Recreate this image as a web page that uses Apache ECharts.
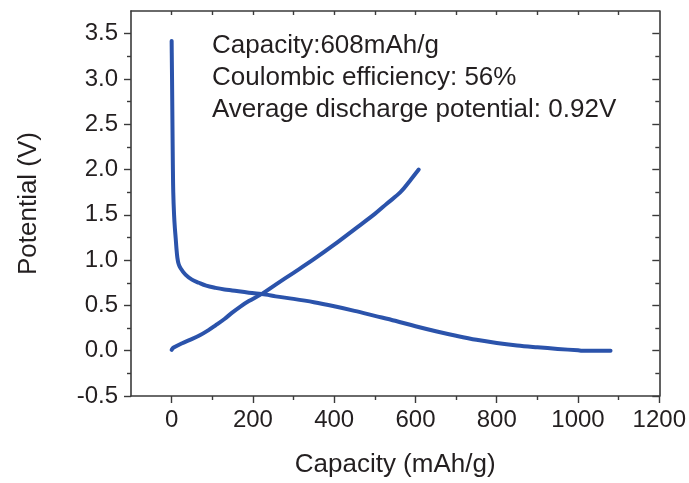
<!DOCTYPE html>
<html>
<head>
<meta charset="utf-8">
<script src="https://cdn.jsdelivr.net/npm/echarts@6/dist/echarts.min.js"></script>
<style>html,body{margin:0;padding:0;background:#fff}#c{width:689px;height:483px}</style>
</head>
<body>
<div id="c"></div>
<script>
// Discharge curve
const dischargeCap = [0, 0.5, 1, 2, 3, 4, 6, 8, 10, 12, 14, 17, 22, 34, 50, 67, 85, 108, 130, 149, 190, 231, 256, 300, 350, 400, 450, 500, 550, 600, 650, 700, 750, 800, 850, 900, 950, 1000, 1010, 1080];
const dischargeV   = [3.42, 3.2, 3.0, 2.5, 2.05, 1.75, 1.5, 1.35, 1.24, 1.12, 1.03, 0.96, 0.91, 0.84, 0.785, 0.75, 0.718, 0.694, 0.676, 0.665, 0.64, 0.62, 0.60, 0.572, 0.535, 0.49, 0.44, 0.385, 0.33, 0.27, 0.215, 0.165, 0.12, 0.085, 0.058, 0.038, 0.02, 0.004, 0, 0];
// Charge curve
const chargeCap = [0, 5, 26, 45, 67, 90, 108, 130, 149, 170, 190, 223, 256, 300, 350, 400, 450, 500, 530, 563, 587, 608];
const chargeV   = [0.01, 0.035, 0.083, 0.12, 0.164, 0.225, 0.28, 0.35, 0.42, 0.49, 0.548, 0.63, 0.73, 0.86, 1.01, 1.17, 1.34, 1.51, 1.625, 1.75, 1.88, 2.0];
// Ticks
const xLabels = [0, 200, 400, 600, 800, 1000, 1200];
const xMinor = [100, 300, 500, 700, 900, 1100];
const xTop = [0, 100, 200, 300, 400, 500, 600, 700, 800, 900, 1000, 1100];
const yLabels = [-0.5, 0, 0.5, 1.0, 1.5, 2.0, 2.5, 3.0, 3.5];
const yMinor = [-0.25, 0.25, 0.75, 1.25, 1.75, 2.25, 2.75, 3.25];
const notes = ['Capacity:608mAh/g', 'Coulombic efficiency: 56%', 'Average discharge potential: 0.92V'];

const FONT = '"Liberation Sans", Arial, sans-serif';
const AX = '#3a3a3a';
const LINE = '#2b53ab';
const xMin = -100, xMax = 1200, yMin = -0.5, yMax = 3.75;

const chart = echarts.init(document.getElementById('c'), null, {renderer: 'canvas'});
const baseX = {type: 'value', min: xMin, max: xMax, splitLine: {show: false}, axisLine: {show: false, onZero: false}, axisLabel: {show: false}, axisTick: {show: false}};
const baseY = {type: 'value', min: yMin, max: yMax, splitLine: {show: false}, axisLine: {show: false, onZero: false}, axisLabel: {show: false}, axisTick: {show: false}};

chart.setOption({
  animation: false,
  backgroundColor: '#fff',
  grid: {left: 131, right: 29, top: 11, bottom: 82, containLabel: false},
  xAxis: [
    Object.assign({}, baseX, {
      position: 'bottom',
      name: 'Capacity (mAh/g)', nameLocation: 'middle', nameGap: 56,
      nameTextStyle: {fontFamily: FONT, fontSize: 26, color: '#231f20'},
      axisLine: {show: true, onZero: false, lineStyle: {color: AX, width: 1.6}},
      axisTick: {show: true, inside: false, length: 7, customValues: xLabels, lineStyle: {color: AX, width: 1.4}},
      axisLabel: {show: true, customValues: xLabels, margin: 12, fontFamily: FONT, fontSize: 24, color: '#231f20',
        formatter: v => String(Math.round(v))}
    }),
    Object.assign({}, baseX, {
      position: 'bottom',
      axisTick: {show: true, inside: false, length: 4, customValues: xMinor, lineStyle: {color: AX, width: 1.4}}
    }),
    Object.assign({}, baseX, {
      position: 'top',
      axisLine: {show: true, onZero: false, lineStyle: {color: AX, width: 1.6}},
      axisTick: {show: true, inside: true, length: 4, customValues: xTop, lineStyle: {color: AX, width: 1.4}}
    })
  ],
  yAxis: [
    Object.assign({}, baseY, {
      position: 'left',
      name: 'Potential (V)', nameLocation: 'middle', nameGap: 89,
      nameTextStyle: {fontFamily: FONT, fontSize: 26, color: '#231f20'},
      axisLine: {show: true, onZero: false, lineStyle: {color: AX, width: 1.6}},
      axisTick: {show: true, inside: false, length: 7, customValues: yLabels, lineStyle: {color: AX, width: 1.4}},
      axisLabel: {show: true, customValues: yLabels, margin: 13, fontFamily: FONT, fontSize: 24, color: '#231f20',
        formatter: v => Number(v).toFixed(1)}
    }),
    Object.assign({}, baseY, {
      position: 'left',
      axisTick: {show: true, inside: false, length: 4, customValues: yMinor, lineStyle: {color: AX, width: 1.4}}
    }),
    Object.assign({}, baseY, {
      position: 'right',
      axisLine: {show: true, onZero: false, lineStyle: {color: AX, width: 1.6}},
      axisTick: {show: true, inside: true, length: 7, customValues: yLabels, lineStyle: {color: AX, width: 1.4}}
    }),
    Object.assign({}, baseY, {
      position: 'right',
      axisTick: {show: true, inside: true, length: 4, customValues: yMinor, lineStyle: {color: AX, width: 1.4}}
    })
  ],
  graphic: [{
    type: 'text', left: 212, top: 30, silent: true,
    style: {text: notes.join('\n'), font: '26px ' + FONT, fill: '#231f20', lineHeight: 32}
  }],
  series: [
    {type: 'line', xAxisIndex: 0, yAxisIndex: 0, showSymbol: false, smooth: 0.35,
     data: dischargeCap.map((c, i) => [c, dischargeV[i]]),
     lineStyle: {color: LINE, width: 4, cap: 'round', join: 'round'}},
    {type: 'line', xAxisIndex: 0, yAxisIndex: 0, showSymbol: false, smooth: 0.35,
     data: chargeCap.map((c, i) => [c, chargeV[i]]),
     lineStyle: {color: LINE, width: 4, cap: 'round', join: 'round'}}
  ]
});
</script>
</body>
</html>
